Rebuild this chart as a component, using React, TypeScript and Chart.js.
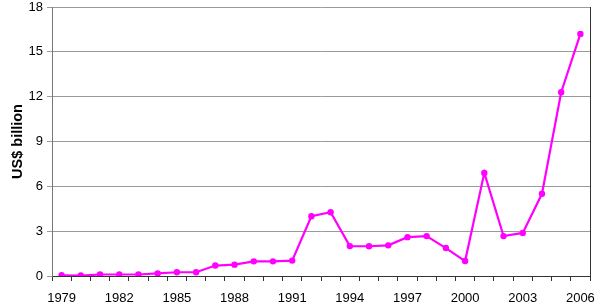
import React, { useEffect, useRef } from "react";
import { Chart, registerables } from "chart.js";

Chart.register(...registerables);

const years: string[] = [
  "1979", "1980", "1981", "1982", "1983", "1984", "1985", "1986", "1987", "1988",
  "1989", "1990", "1991", "1992", "1993", "1994", "1995", "1996", "1997", "1998",
  "1999", "2000", "2001", "2002", "2003", "2004", "2005", "2006",
];
const values: number[] = [
  0.05, 0.03, 0.1, 0.1, 0.1, 0.17, 0.25, 0.25, 0.7, 0.76,
  0.98, 0.98, 1.03, 4.0, 4.27, 2.0, 1.99, 2.05, 2.6, 2.67,
  1.87, 1.0, 6.9, 2.67, 2.88, 5.5, 12.3, 16.2,
];
const shownYearLabels: string[] = ["1979", "1982", "1985", "1988", "1991", "1994", "1997", "2000", "2003", "2006"];
const yMin = 0;
const yMax = 18;
const yStep = 3;
const yTitle = "US$ billion";

const rightBorder = {
  id: "rightBorder",
  afterDraw(chart: any) {
    const { ctx, chartArea } = chart;
    ctx.save();
    ctx.strokeStyle = "#333333";
    ctx.lineWidth = 1;
    ctx.beginPath();
    ctx.moveTo(Math.round(chartArea.right) + 0.5, chartArea.top);
    ctx.lineTo(Math.round(chartArea.right) + 0.5, chartArea.bottom);
    ctx.stroke();
    ctx.restore();
  },
};

export default function App() {
  const ref = useRef<HTMLCanvasElement | null>(null);
  useEffect(() => {
    document.body.style.margin = "0";
    const chart = new Chart(ref.current as HTMLCanvasElement, {
      type: "line",
      data: {
        labels: years,
        datasets: [
          {
            data: values,
            borderColor: "#ff00ff",
            backgroundColor: "#ff00ff",
            borderWidth: 2.2,
            pointRadius: 3.2,
            pointBackgroundColor: "#ff00ff",
            pointBorderWidth: 0,
            tension: 0,
          },
        ],
      },
      options: {
        animation: false,
        responsive: false,
        maintainAspectRatio: false,
        layout: { padding: { top: 7, right: 6, left: 0, bottom: 0 } },
        plugins: { legend: { display: false }, tooltip: { enabled: false } },
        scales: {
          x: {
            type: "category",
            offset: true,
            grid: {
              offset: true,
              drawOnChartArea: false,
              drawTicks: true,
              tickLength: 5,
              color: "#333333",
            },
            border: { color: "#333333", width: 1 },
            ticks: {
              autoSkip: false,
              maxRotation: 0,
              padding: 10,
              color: "#000000",
              font: { family: "Liberation Sans, Arial, sans-serif", size: 13 },
              callback: function (this: any, val: any) {
                const l = years[val as number];
                return shownYearLabels.includes(l) ? l : "";
              },
            },
            afterFit: (s: any) => {
              s.height = 29;
              s.paddingLeft = 0;
              s.paddingRight = 0;
            },
          },
          y: {
            min: yMin,
            max: yMax,
            grid: { color: "#9a9a9a", tickLength: 5, lineWidth: 1 },
            border: { color: "#777777" },
            ticks: {
              stepSize: yStep,
              padding: 4,
              color: "#000000",
              font: { family: "Liberation Sans, Arial, sans-serif", size: 13 },
            },
            title: {
              display: true,
              text: yTitle,
              color: "#000000",
              padding: { top: 9, bottom: 0 },
              font: { family: "Liberation Sans, Arial, sans-serif", size: 14.5, weight: "bold" },
            },
            afterFit: (s: any) => {
              s.width = 52;
              s.paddingTop = 0;
              s.paddingBottom = 0;
            },
          },
        },
      },
      plugins: [rightBorder],
    });
    return () => chart.destroy();
  }, []);
  return (
    <div style={{ width: 596, height: 305 }}>
      <canvas ref={ref} width={596} height={305} style={{ display: "block" }} />
    </div>
  );
}
